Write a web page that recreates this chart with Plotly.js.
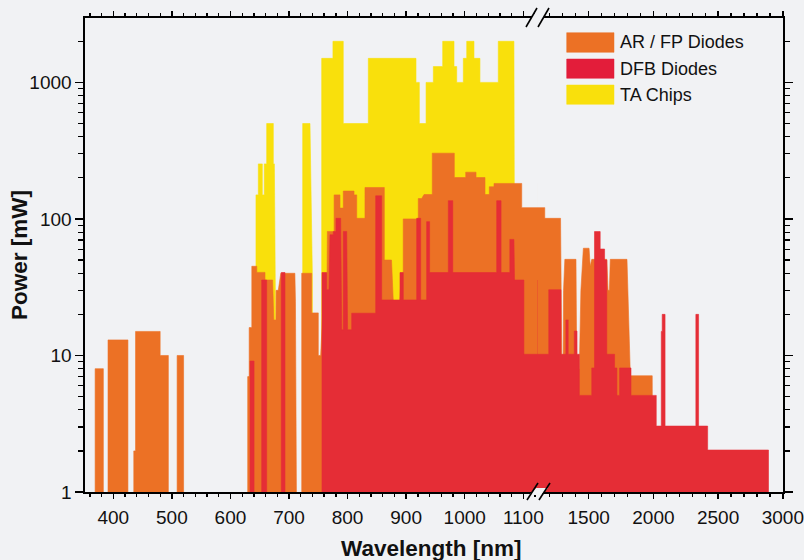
<!DOCTYPE html>
<html><head><meta charset="utf-8">
<script src="https://cdn.plot.ly/plotly-3.0.1.min.js"></script>
<style>html,body{margin:0;padding:0;background:#f1f2f4;} #chart{width:804px;height:560px;}</style>
</head><body><div id="chart"></div>
<script>
// off-scale floor value (below the 1 mW axis bottom) used for gaps between products
const FLOOR = 0.5;
const F = FLOOR;

// AR / FP Diodes: wavelength [nm] and power [mW] vertices
const arfpWavelength = [369,369,383,383, 391,391,425,425, 435,435,438,438,480,480,494,494, 509,509,520,520,
  629.5,629.5,632,632,636.5,636.5,645,645,659,659,672,674,677.8,678,681.7,686,710,711,713,
  721.7,721.7,738.7,738.7,750,750,754,761,765,765.5,777,777,787,787,792.7,792.7,811,811,815.6,815.6,829.7,829.7,862.7,862.7,875,878,889,892,895,895,
  920.7,920.7,926.5,930.5,944.6,944.6,982.2,982.2,1001.7,1001.7,1019.3,1019.3,1034.6,1034.6,1042,1042,1050,1050,1097.3,1097.3,1161,1161,
  1283,1292,1303,1306,1316,1402,1408,1428,1440,1459,1503,1512,1524,1640,1650,1660,1667,1796,1822,1991,1995];
const arfpPower = [F,8,8,F, F,13,13,F, F,2,2,15,15,10,10,F, F,10,10,F,
  F,7,7,16,16,45,45,40.6,40.6,35.7,35.7,18.2,18.2,30,30,40,40,25,F,
  F,40,40,20.5,20.5,10,10,40,40,81,81,150,150,120,120,160,160,150,150,101,101,170,170,50,50,25,25,40,40,100,
  100,141,141,151,151,303,303,201,201,220,220,201,201,151,151,172,172,182,182,121,121,101,
  101,10,10,30,50.6,50.6,8,8,30,61,61,45,50.6,50.6,30,30,50.6,50.6,7.1,7.1,F];

// DFB Diodes
const dfbWavelength = [633.5,633.5,640.3,640.3, 653.4,653.4,661.9,661.9, 686.8,686.8,693.1,693.1,
  756.3,756.3,764.3,764.3,768.3,770,775.6,775.6,780.2,780.2,788.2,790,792.7,792.7,798.5,800,807,807,848,848,858.2,858.2,
  889.5,889.5,895.1,895.1,918,918,924.8,924.8,935,935,940,940,972,972,979.6,979.6,1054.6,1054.6,1062,1062,1077,1077,1084,1085,1101,1101,
  1192,1192,1286,1286,1324,1324,1342,1342,1389,1389,1410,1410,1428,1428,1524,1524,1545,1545,1589,1589,1623,1623,1640,1640,
  1700,1700,1718,1718,1739,1739,1827,1827,2022,2022,2061,2061,2068,2068,2090,2090,2328,2328,2349,2349,2419,2419,2889,2889];
const dfbPower = [F,9.1,9.1,F, F,35.7,35.7,F, F,40.5,40.5,F,
  F,40.5,40.5,30.3,30.3,76.5,76.5,80.8,80.8,101,101,15.4,15.4,81,81,15.4,15.4,20.4,20.4,147.6,147.6,25.5,
  25.5,40.5,40.5,25.5,25.5,101,101,25.5,25.5,95.5,95.5,40.5,40.5,136,136,40.5,40.5,136,136,40.5,40.5,70.8,70.8,35.7,35.7,10.2,
  10.2,30.3,30.3,10.2,10.2,18.2,18.2,10.2,10.2,15.1,15.1,10.2,10.2,5.1,5.1,8.1,8.1,80.8,80.8,60.2,60.2,50,50,10.2,
  10.2,8.1,8.1,5.1,5.1,8.1,8.1,5.1,5.1,3.04,3.04,15,15,20,20,3.04,3.04,20,20,3.04,3.04,2.03,2.03,F];

// TA Chips
const taWavelength = [643.6,643.6,647.6,647.6,654.4,654.4,657.8,657.8,661.9,661.9,673.2,673.2,675,677,677,
  723.4,723.4,735.8,739.8,739.8,
  755.8,755.8,775,775,792.6,792.6,835.4,835.4,916.8,916.8,922.5,922.5,934,934,946.4,946.4,962.4,962.4,981.7,981.7,986.3,986.3,
  997.6,997.6,1003.4,1003.4,1015.8,1015.8,1026,1026,1057.3,1057.3,1084,1086];
const taPower = [F,150,150,253,253,150,150,253,253,500,500,253,253,18,F,
  F,500,500,40,F,
  F,1500,1500,2000,2000,500,500,1500,1500,1000,1000,500,500,1000,1000,1306,1306,2000,2000,1306,1306,1000,
  1000,1500,1500,2000,2000,1500,1500,1000,1000,2000,2000,F];

const seriesNames = ['TA Chips', 'AR / FP Diodes', 'DFB Diodes'];
const seriesColors = ['#f9e00c', '#ec7125', '#e52d36'];
const legendColors = ['#ec7125', '#e31d3a', '#f9e00c'];
const legendLabels = ['AR / FP Diodes', 'DFB Diodes', 'TA Chips'];

const yTickVals = [1, 10, 100, 1000];
const yTickText = ['1', '10', '100', '1000'];
const yMinorVals = [2,3,4,5,6,7,8,9,20,30,40,50,60,70,80,90,200,300,400,500,600,700,800,900,2000,3000];

const seriesData = [[taWavelength, taPower], [arfpWavelength, arfpPower], [dfbWavelength, dfbPower]];
const traces = [];
seriesData.forEach((s, i) => {
  [['x','y'],['x2','y2']].forEach((ax, k) => {
    traces.push({
      type: 'scatter', mode: 'lines', x: s[0], y: s[1],
      xaxis: ax[0], yaxis: ax[1], name: seriesNames[i], showlegend: false,
      fill: 'tozeroy', fillcolor: seriesColors[i],
      line: {color: seriesColors[i], width: 0.6, simplify: false}, hoverinfo: 'skip'
    });
  });
});

const W = 698, H = 474, L = 85, T = 18;
const px = v => (v - L) / W;
const py = v => (T + H - v) / H;

const axisCommon = {
  showline: true, linecolor: '#000', linewidth: 1.6, ticks: 'outside', tickcolor: '#000', tickwidth: 1.5,
  showgrid: false, zeroline: false, mirror: 'ticks', ticklabeloverflow: 'allow',
  tickfont: {family: 'Liberation Sans, Arial, sans-serif', size: 19, color: '#111'}
};

const shapes = [];
// axis break marks
[[500,483],[27,8]].forEach(([yb, yt]) => {
  const xs = yb > 100 ? [527, 539] : [526, 538];
  shapes.push({type:'path', xref:'paper', yref:'paper', layer:'above', line:{width:0}, fillcolor:'#f1f2f4',
    path:`M${px(xs[0]+2)},${py(yb-5)} L${px(xs[1]+2)},${py(yb-5)} L${px(xs[1]+9)},${py(yt+5)} L${px(xs[0]+9)},${py(yt+5)} Z`});
  xs.forEach(x0 => shapes.push({type:'line', xref:'paper', yref:'paper', layer:'above',
    x0: px(x0), y0: py(yb), x1: px(x0 + 11), y1: py(yt), line:{color:'#000', width:1.6}}));
});
// legend swatches
const swY = [[32.7,52.3],[59,78.3],[85,104.3]];
swY.forEach((r, i) => shapes.push({type:'rect', xref:'paper', yref:'paper', layer:'above',
  x0: px(566.7), x1: px(614), y0: py(r[1]), y1: py(r[0]), fillcolor: legendColors[i], line:{color: legendColors[i], width: 0.5}}));

const annotations = legendLabels.map((t, i) => ({text: t, xref:'paper', yref:'paper', x: px(618), y: py((swY[i][0]+swY[i][1])/2),
  xanchor:'left', yanchor:'middle', showarrow:false, font:{family:'Liberation Sans, Arial, sans-serif', size:18, color:'#111'}}));
annotations.push({text:'Wavelength [nm]', xref:'paper', yref:'paper', x: px(431), y: py(548), xanchor:'center', yanchor:'middle',
  showarrow:false, font:{family:'Liberation Sans, Arial, sans-serif', size:22.5, color:'#111', weight:'bold'}});
annotations.push({text:'Power [mW]', xref:'paper', yref:'paper', x: px(19), y: py(255), xanchor:'center', yanchor:'middle', textangle:-90,
  showarrow:false, font:{family:'Liberation Sans, Arial, sans-serif', size:22.5, color:'#111', weight:'bold'}});

const layout = {
  width: 804, height: 560, paper_bgcolor: '#f1f2f4', plot_bgcolor: '#f1f2f4',
  margin: {l: 85, r: 21, t: 18, b: 68}, showlegend: false,
  font: {family: 'Liberation Sans, Arial, sans-serif', size: 19, color: '#111'},
  xaxis: Object.assign({}, axisCommon, {domain: [0, px(538)], range: [351.7, 1125.1], anchor: 'y',
    tickmode: 'linear', tick0: 400, dtick: 100, ticklen: 5, ticklabelstandoff: 3,
    minor: {tick0: 0, dtick: 20, ticklen: 3.5, tickwidth: 1.3, tickcolor: '#000', ticks: 'outside'}}),
  xaxis2: Object.assign({}, axisCommon, {domain: [px(537), 1], range: [1101, 3001], anchor: 'y2',
    tickmode: 'linear', tick0: 0, dtick: 500, ticklen: 5, ticklabelstandoff: 3,
    minor: {tick0: 0, dtick: 100, ticklen: 3.5, tickwidth: 1.3, tickcolor: '#000', ticks: 'outside'}}),
  yaxis: Object.assign({}, axisCommon, {type: 'log', range: [0, 3.4717], anchor: 'x', mirror: false,
    tickmode: 'array', tickvals: yTickVals, ticktext: yTickText, ticklen: 8,
    minor: {tickmode: 'array', tickvals: yMinorVals, ticklen: 5, tickwidth: 1.3, tickcolor: '#000', ticks: 'outside'}}),
  yaxis2: Object.assign({}, axisCommon, {type: 'log', range: [0, 3.4717], anchor: 'x2', side: 'right', mirror: false,
    showticklabels: false, tickmode: 'array', tickvals: yTickVals, ticklen: 8,
    minor: {tickmode: 'array', tickvals: yMinorVals, ticklen: 5, tickwidth: 1.3, tickcolor: '#000', ticks: 'outside'}}),
  shapes: shapes, annotations: annotations
};

Plotly.newPlot('chart', traces, layout, {displayModeBar: false, staticPlot: true});
</script>
</body></html>
